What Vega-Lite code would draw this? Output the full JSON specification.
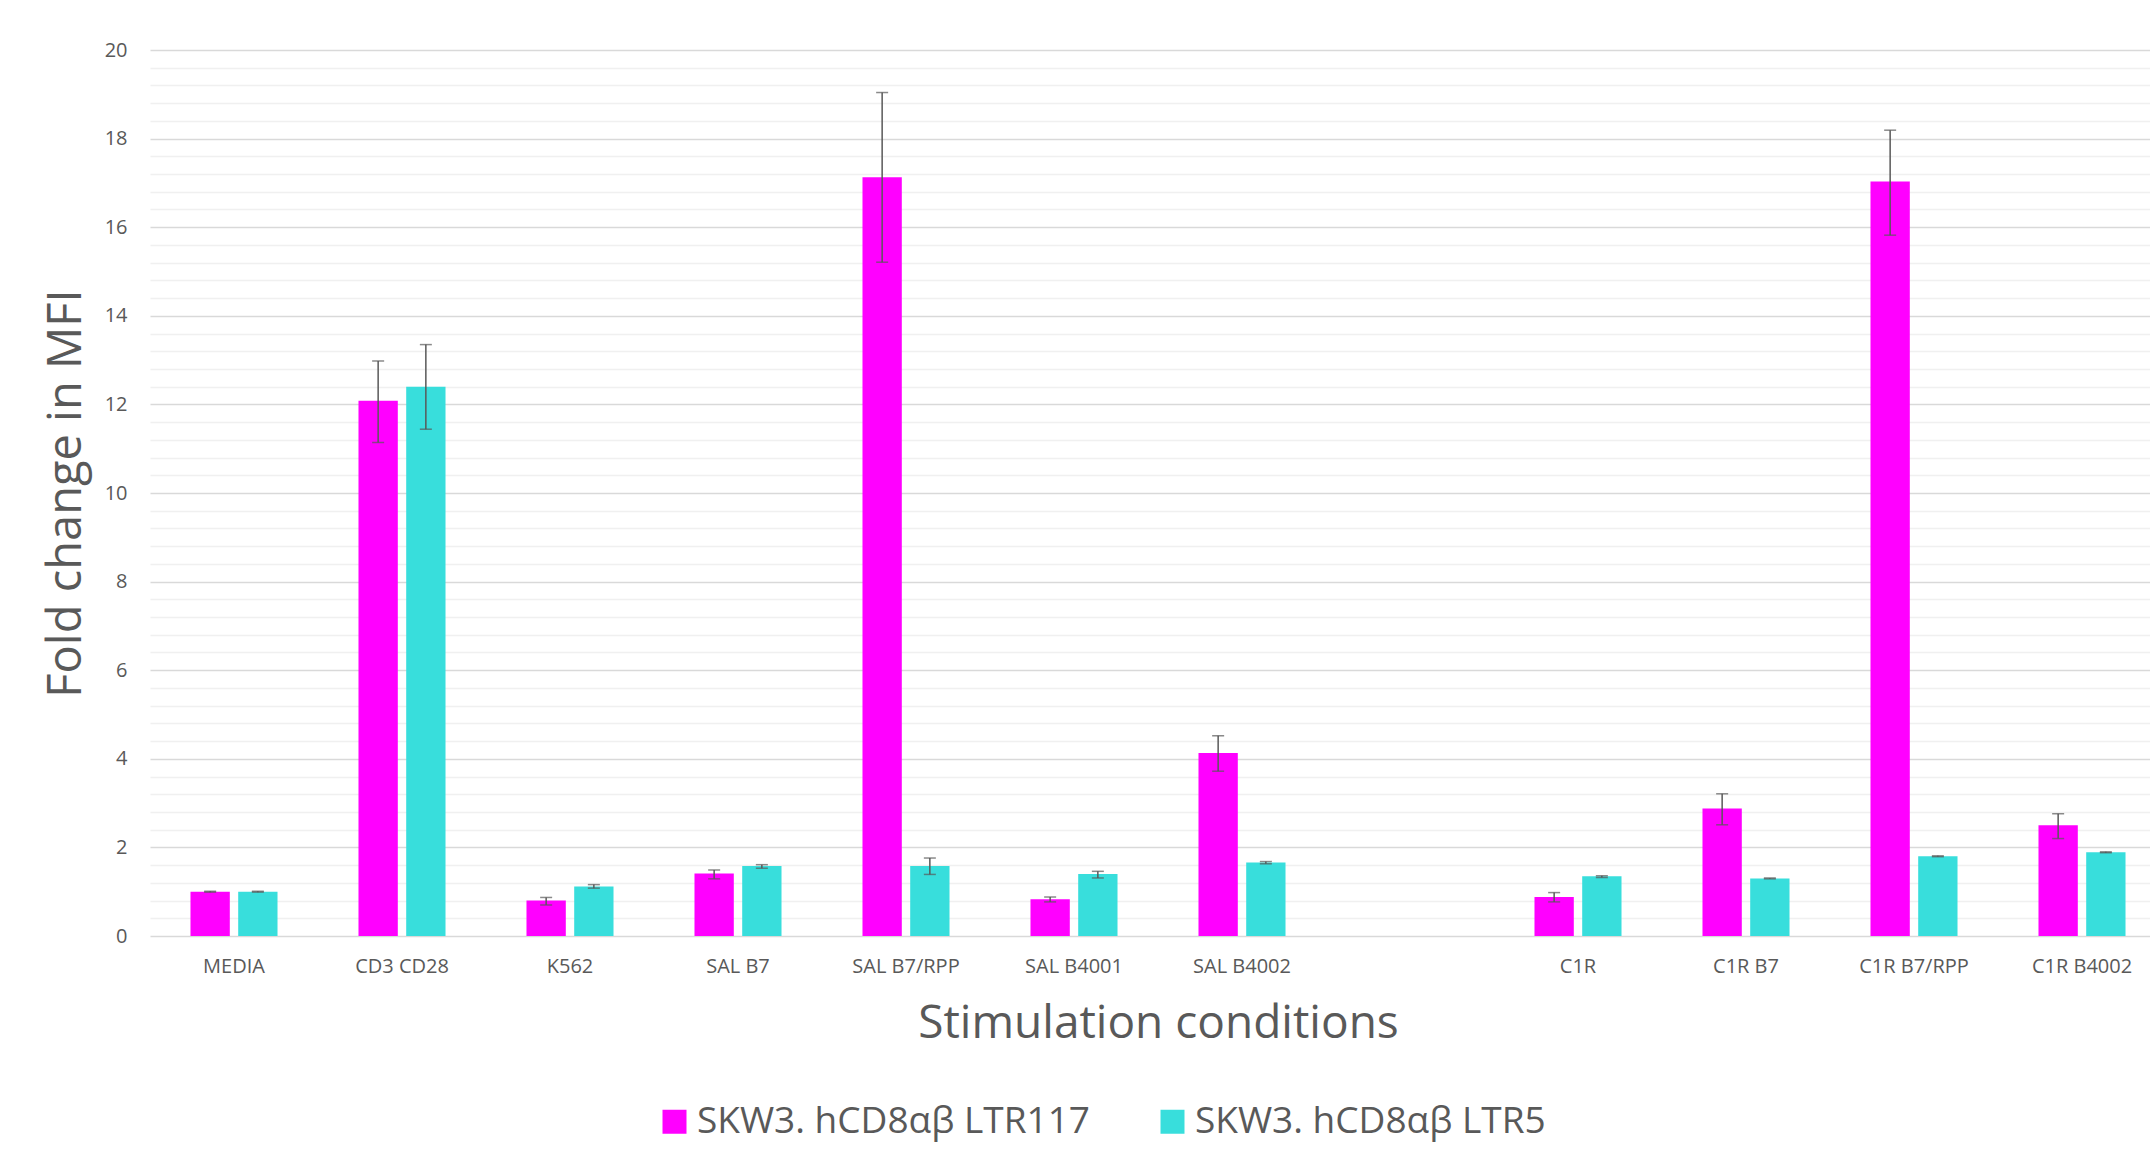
{
  "$schema": "https://vega.github.io/schema/vega-lite/v6.json",
  "width": 2000,
  "height": 886,
  "autosize": "none",
  "padding": {"left": 150, "top": 50, "right": 0, "bottom": 223},
  "background": "white",
  "config": {
    "view": {"stroke": null},
    "font": "Open Sans",
    "axis": {"labelFont": "Open Sans", "titleFont": "Open Sans"},
    "legend": {"labelFont": "Open Sans"}
  },
  "data": {
    "values": [
      {"cond": "MEDIA", "series": "SKW3. hCD8αβ LTR117", "value": 1.0, "lo": 0.99, "hi": 1.01},
      {"cond": "MEDIA", "series": "SKW3. hCD8αβ LTR5", "value": 1.0, "lo": 0.99, "hi": 1.01},
      {"cond": "CD3 CD28", "series": "SKW3. hCD8αβ LTR117", "value": 12.08, "lo": 11.14, "hi": 12.98},
      {"cond": "CD3 CD28", "series": "SKW3. hCD8αβ LTR5", "value": 12.4, "lo": 11.44, "hi": 13.35},
      {"cond": "K562", "series": "SKW3. hCD8αβ LTR117", "value": 0.8, "lo": 0.7, "hi": 0.87},
      {"cond": "K562", "series": "SKW3. hCD8αβ LTR5", "value": 1.12, "lo": 1.08, "hi": 1.16},
      {"cond": "SAL B7", "series": "SKW3. hCD8αβ LTR117", "value": 1.41, "lo": 1.29, "hi": 1.49},
      {"cond": "SAL B7", "series": "SKW3. hCD8αβ LTR5", "value": 1.58, "lo": 1.53, "hi": 1.61},
      {"cond": "SAL B7/RPP", "series": "SKW3. hCD8αβ LTR117", "value": 17.13, "lo": 15.21, "hi": 19.04},
      {"cond": "SAL B7/RPP", "series": "SKW3. hCD8αβ LTR5", "value": 1.58, "lo": 1.39, "hi": 1.76},
      {"cond": "SAL B4001", "series": "SKW3. hCD8αβ LTR117", "value": 0.83, "lo": 0.77, "hi": 0.88},
      {"cond": "SAL B4001", "series": "SKW3. hCD8αβ LTR5", "value": 1.4, "lo": 1.31, "hi": 1.46},
      {"cond": "SAL B4002", "series": "SKW3. hCD8αβ LTR117", "value": 4.13, "lo": 3.72, "hi": 4.52},
      {"cond": "SAL B4002", "series": "SKW3. hCD8αβ LTR5", "value": 1.66, "lo": 1.63, "hi": 1.68},
      {"cond": "C1R", "series": "SKW3. hCD8αβ LTR117", "value": 0.88, "lo": 0.77, "hi": 0.98},
      {"cond": "C1R", "series": "SKW3. hCD8αβ LTR5", "value": 1.35, "lo": 1.32, "hi": 1.36},
      {"cond": "C1R B7", "series": "SKW3. hCD8αβ LTR117", "value": 2.88, "lo": 2.51, "hi": 3.21},
      {"cond": "C1R B7", "series": "SKW3. hCD8αβ LTR5", "value": 1.3, "lo": 1.29, "hi": 1.31},
      {"cond": "C1R B7/RPP", "series": "SKW3. hCD8αβ LTR117", "value": 17.03, "lo": 15.82, "hi": 18.19},
      {"cond": "C1R B7/RPP", "series": "SKW3. hCD8αβ LTR5", "value": 1.8, "lo": 1.79, "hi": 1.81},
      {"cond": "C1R B4002", "series": "SKW3. hCD8αβ LTR117", "value": 2.5, "lo": 2.2, "hi": 2.76},
      {"cond": "C1R B4002", "series": "SKW3. hCD8αβ LTR5", "value": 1.89, "lo": 1.88, "hi": 1.9}
    ]
  },
  "encoding": {
    "x": {
      "field": "cond",
      "type": "nominal",
      "scale": {
        "domain": ["MEDIA", "CD3 CD28", "K562", "SAL B7", "SAL B7/RPP", "SAL B4001", "SAL B4002", " ", "C1R", "C1R B7", "C1R B7/RPP", "C1R B4002"],
        "range": [0, 2016],
        "paddingInner": 0.482,
        "paddingOuter": 0.241
      },
      "axis": {
        "title": "Stimulation conditions",
        "domain": false,
        "ticks": false,
        "labelAngle": 0,
        "labelPadding": 20,
        "labelFontSize": 20,
        "labelColor": "#595959",
        "titleFontSize": 46,
        "titleFontWeight": "normal",
        "titleColor": "#595959",
        "titlePadding": 25
      }
    },
    "xOffset": {
      "field": "series",
      "type": "nominal",
      "scale": {"domain": ["SKW3. hCD8αβ LTR117", "SKW3. hCD8αβ LTR5"], "paddingInner": 0.176, "paddingOuter": 0}
    }
  },
  "layer": [
    {
      "mark": {"type": "bar"},
      "encoding": {
        "y": {
          "field": "value",
          "type": "quantitative",
          "scale": {"domain": [0, 20], "nice": false},
          "axis": {
            "values": [0, 2, 4, 6, 8, 10, 12, 14, 16, 18, 20],
            "grid": true,
            "gridColor": "#d9d9d9",
            "gridWidth": 1.3,
            "domain": false,
            "ticks": false,
            "labelPadding": 23,
            "labelFontSize": 20,
            "labelColor": "#595959",
            "title": "Fold change in MFI",
            "titleFontSize": 47,
            "titleFontWeight": "normal",
            "titleColor": "#595959",
            "titlePadding": 14
          }
        },
        "color": {
          "field": "series",
          "type": "nominal",
          "scale": {"domain": ["SKW3. hCD8αβ LTR117", "SKW3. hCD8αβ LTR5"], "range": ["#FF00FF", "#38DEDC"]},
          "legend": {
            "title": null,
            "orient": "none",
            "legendX": 506,
            "legendY": 1053,
            "direction": "horizontal",
            "symbolType": "square",
            "symbolSize": 576,
            "symbolStrokeWidth": 0,
            "labelFontSize": 37,
            "labelColor": "#595959",
            "labelOffset": 4,
            "labelLimit": 0,
            "columnPadding": 64,
            "padding": 0
          }
        }
      }
    },
    {
      "mark": {"type": "rule", "color": "#595959", "strokeWidth": 1.5},
      "encoding": {
        "y": {
          "field": "lo",
          "type": "quantitative",
          "axis": {
            "orient": "left",
            "values": [0.4, 0.8, 1.2, 1.6, 2.4, 2.8, 3.2, 3.6, 4.4, 4.8, 5.2, 5.6, 6.4, 6.8, 7.2, 7.6, 8.4, 8.8, 9.2, 9.6, 10.4, 10.8, 11.2, 11.6, 12.4, 12.8, 13.2, 13.6, 14.4, 14.8, 15.2, 15.6, 16.4, 16.8, 17.2, 17.6, 18.4, 18.8, 19.2, 19.6],
            "grid": true,
            "gridColor": "#f0f0f0",
            "gridWidth": 1.3,
            "labels": false,
            "ticks": false,
            "domain": false,
            "title": null
          }
        },
        "y2": {"field": "hi"}
      }
    },
    {
      "mark": {"type": "tick", "color": "#595959", "thickness": 1.5, "size": 12},
      "encoding": {"y": {"field": "lo", "type": "quantitative", "axis": null}}
    },
    {
      "mark": {"type": "tick", "color": "#595959", "thickness": 1.5, "size": 12},
      "encoding": {"y": {"field": "hi", "type": "quantitative", "axis": null}}
    }
  ],
  "resolve": {"axis": {"y": "independent"}}
}
